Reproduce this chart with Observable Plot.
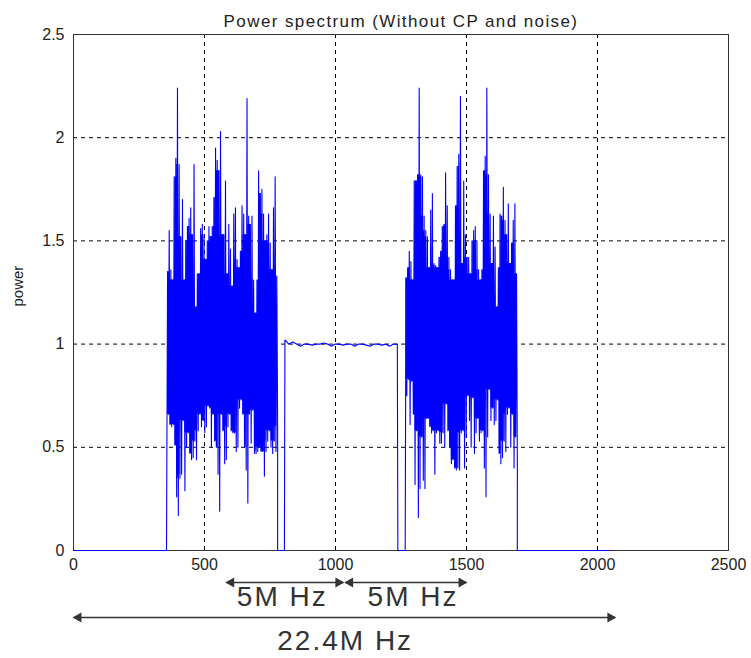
<!DOCTYPE html>
<html>
<head>
<meta charset="utf-8">
<script src="https://cdn.jsdelivr.net/npm/d3@7"></script>
<script src="https://cdn.jsdelivr.net/npm/@observablehq/plot@0.6"></script>
<style>
  body { margin: 0; background: #fff; }
  #chart svg { display: block; }
</style>
</head>
<body>
<div id="chart"></div>
<script>
// ---- Text ----
const titleText = "Power spectrum (Without CP and noise)";
const yLabel = "power";

// ---- Axes ----
const xTicks = [0, 500, 1000, 1500, 2000, 2500];
const yTicks = [0, 0.5, 1, 1.5, 2, 2.5];
const xGridAt = [500, 1000, 1500, 2000];
const yGridAt = [0.5, 1, 1.5, 2];

// ---- Spectrum ----
// stretches at zero power (subcarrier index ranges)
const zeroRuns = [[0, 355], [779, 805], [1238, 1266], [1694, 2047]];
// first occupied band: upper / lower envelope per pixel column
const band1Span = [359, 776];
const band1Hi = [1.35,1.55,1.36,1.31,1.81,1.90,2.24,1.87,1.52,1.70,1.31,1.50,1.57,1.61,1.66,1.53,1.87,1.18,1.34,1.34,1.56,1.58,1.53,1.41,1.50,1.57,1.52,1.57,1.71,1.95,1.89,1.84,2.03,
                 1.53,1.53,1.79,1.34,1.58,1.46,1.28,1.63,1.66,1.41,1.37,1.45,1.67,1.63,1.53,2.19,1.62,1.58,1.62,1.31,1.15,1.31,1.84,1.73,1.75,1.63,1.50,1.53,1.63,1.49,1.36,1.66,1.81,1.33];
const band1Lo = [0.66,0.61,0.60,0.61,0.51,0.26,0.17,0.35,0.37,0.63,0.29,0.50,0.57,0.47,0.44,0.45,0.53,0.44,0.58,0.66,0.60,0.63,0.57,0.60,0.70,0.69,0.50,0.66,0.53,0.50,0.37,0.19,0.66,
                 0.58,0.42,0.44,0.60,0.66,0.58,0.57,0.57,0.48,0.50,0.69,0.73,0.66,0.50,0.39,0.23,0.66,0.52,0.68,0.47,0.47,0.48,0.50,0.48,0.48,0.36,0.48,0.53,0.58,0.50,0.47,0.53,0.48,0.60];
// flat middle band
const flatSpan = [807, 1236];
const flatLevels = [1.02,1.0,1.01,1.0,0.99,1.0,1.0,0.995,1.0,1.0,1.005,1.0,0.99,1.0,1.0,0.995,1.0,1.0,0.99,1.0,1.0,0.995,0.99,1.0,1.0,0.995,1.0,0.99,1.0,1.0];
// second occupied band
const band2Span = [1269, 1691];
const band2Hi = [1.32,1.37,1.45,1.40,1.31,1.79,1.79,1.82,2.24,1.82,1.81,1.62,1.55,1.52,1.37,1.65,1.73,1.39,1.38,1.37,1.42,1.45,1.57,1.58,1.83,1.67,1.42,1.36,1.31,1.31,1.67,1.86,1.92,2.20,
                 1.39,1.79,1.53,1.42,1.42,1.34,1.50,1.55,1.57,1.50,1.36,1.31,1.36,1.84,1.91,2.24,1.82,1.63,1.39,1.62,1.47,1.18,1.37,1.63,1.62,1.76,1.60,1.53,1.68,1.39,1.49,1.60,1.68,1.34];
const band2Lo = [0.75,0.83,0.61,0.82,0.66,0.32,0.58,0.16,0.30,0.55,0.34,0.30,0.64,0.64,0.60,0.57,0.58,0.37,0.57,0.58,0.52,0.52,0.57,0.50,0.71,0.58,0.50,0.42,0.44,0.40,0.39,0.40,0.39,0.57,
                 0.58,0.40,0.55,0.75,0.63,0.50,0.74,0.47,0.57,0.64,0.53,0.57,0.58,0.40,0.26,0.55,0.78,0.63,0.69,0.61,0.63,0.73,0.47,0.42,0.45,0.53,0.48,0.66,0.69,0.50,0.66,0.40,0.55,0.39];

// ---- Bandwidth annotations ----
const spanLabels = ["5M Hz", "5M Hz", "22.4M Hz"];
const spanStart = [583, 1037, 0];
const spanEnd = [1030, 1500, 2068];
const spanLabelX = [797, 1296, 1037];
const spanRow = [0, 0, 1];

// ---- Build series ----
const pts = [];
const core = [];
const addZero = ([a, b]) => { pts.push({x: a, y: 0}, {x: b, y: 0}); };
const addBand = ([a, b], hi, lo, band) => {
  const n = hi.length;
  const step = (b - a) / (n - 1);
  hi.forEach((h, i) => {
    const x = a + i * step;
    pts.push({x, y: h}, {x: x + step / 2, y: lo[i]});
    // dense core: the part every neighbouring swing passes through
    const j0 = Math.max(0, i - 1), j1 = Math.min(n - 1, i + 1);
    const top = Math.min(...hi.slice(j0, j1 + 1));
    const bot = Math.max(...lo.slice(j0, j1 + 1));
    core.push({band, x, hi: top, lo: bot});
  });
};
const addFlat = ([a, b], vals) => {
  const step = (b - a) / (vals.length - 1);
  vals.forEach((v, i) => pts.push({x: a + i * step, y: v}));
};
addZero(zeroRuns[0]);
addBand(band1Span, band1Hi, band1Lo, 1);
addZero(zeroRuns[1]);
addFlat(flatSpan, flatLevels);
addZero(zeroRuns[2]);
addBand(band2Span, band2Hi, band2Lo, 2);
addZero(zeroRuns[3]);

const spans = spanLabels.map((label, i) => ({label, x1: spanStart[i], x2: spanEnd[i], xl: spanLabelX[i], row: spanRow[i]}));
const rowLineDy = [32, 67];
const rowTextDy = [47, 91];
const annColor = "#333";

const annMarks = [];
[0, 1].forEach(r => {
  const d = spans.filter(s => s.row === r);
  annMarks.push(
    Plot.link(d, {x1: "x1", x2: "x2", y1: 0, y2: 0, dy: rowLineDy[r], stroke: annColor, strokeWidth: 1.4}),
    Plot.dot(d, {x: "x1", y: 0, dy: rowLineDy[r], dx: 5, symbol: "triangle", rotate: -90, r: 3.8, fill: annColor, stroke: "none"}),
    Plot.dot(d, {x: "x2", y: 0, dy: rowLineDy[r], dx: -5, symbol: "triangle", rotate: 90, r: 3.8, fill: annColor, stroke: "none"}),
    Plot.text(d, {x: "xl", y: 0, dy: rowTextDy[r], text: "label", fontSize: 28, fill: annColor})
  );
});

const chart = Plot.plot({
  width: 751,
  height: 658,
  marginLeft: 73,
  marginRight: 23,
  marginTop: 34,
  marginBottom: 108,
  style: {fontFamily: "'Liberation Sans', Arial, sans-serif", fontSize: "16px", color: "#222", background: "#fff", overflow: "visible"},
  x: {domain: [0, 2500], ticks: xTicks, tickFormat: d => String(d), tickSize: 0, tickPadding: 8, label: null},
  y: {domain: [0, 2.5], ticks: yTicks, tickFormat: d => String(d), tickSize: 0, tickPadding: 9, label: null},
  marks: [
    Plot.ruleX(xGridAt, {stroke: "#000", strokeWidth: 1, strokeDasharray: "4,4"}),
    Plot.ruleY(yGridAt, {stroke: "#000", strokeWidth: 1, strokeDasharray: "4,4"}),
    Plot.frame({stroke: "#333", strokeWidth: 1}),
    Plot.areaY(core, {x: "x", y1: "lo", y2: "hi", z: "band", curve: "step", fill: "#0000ff"}),
    Plot.line(pts, {x: "x", y: "y", stroke: "#0000ff", strokeWidth: 1.1}),
    Plot.text([titleText], {text: d => d, frameAnchor: "top", dy: -20, fontSize: 17, fill: "#222"}),
    Plot.text([yLabel], {text: d => d, frameAnchor: "left", dx: -55, dy: 14, rotate: -90, fontSize: 15, fill: "#222"}),
    ...annMarks
  ]
});

document.getElementById("chart").append(chart);

// letter spacing to mimic original font rendering
d3.select(chart).selectAll("text").each(function() {
  const t = this.textContent;
  if (t === titleText) d3.select(this).style("letter-spacing", "1.4px");
  if (spanLabels.includes(t)) d3.select(this).style("letter-spacing", "2px");
});
</script>
</body>
</html>
